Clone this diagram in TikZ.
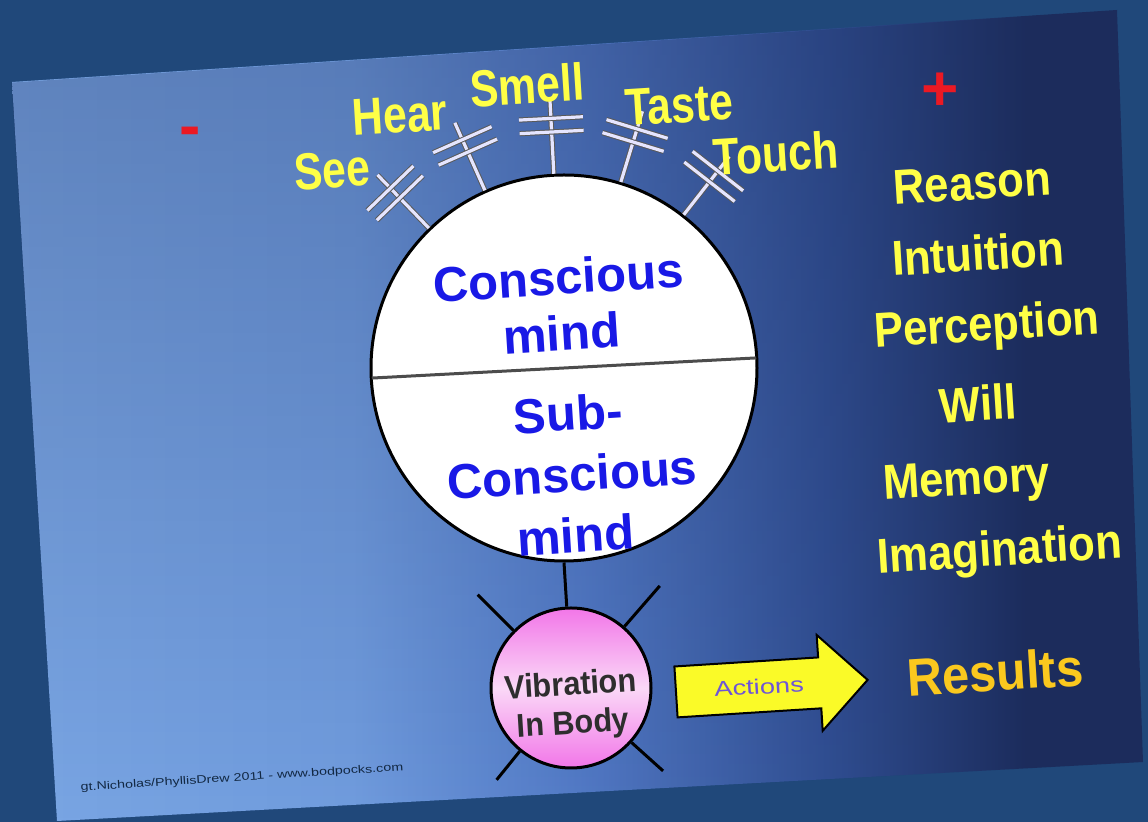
\documentclass[tikz,border=0pt]{standalone}
\usepackage{fontspec}
\setmainfont{Liberation Sans}
\usepackage{graphicx}
\usetikzlibrary{calc,shapes.arrows,fadings}

\definecolor{frameblue}{RGB}{32,72,122}
\definecolor{slidelight}{RGB}{122,166,228}
\definecolor{slidelightb}{RGB}{112,156,222}
\definecolor{slidemid}{RGB}{82,122,198}
\definecolor{slidedeep}{RGB}{48,78,146}
\definecolor{slidedark}{RGB}{28,44,92}
\definecolor{senseyellow}{RGB}{255,255,70}
\definecolor{resultgold}{RGB}{250,200,30}
\definecolor{mindblue}{RGB}{25,25,230}
\definecolor{actblue}{RGB}{110,85,215}
\definecolor{signred}{RGB}{235,25,35}
\definecolor{pinktop}{RGB}{242,118,232}
\definecolor{pinkmid}{RGB}{250,216,247}
\definecolor{arrowyellow}{RGB}{250,250,40}

% stops sit between 25bp and 75bp, the part that \shade fits to the path
\pgfdeclarehorizontalshading{slideshade}{100bp}{color(0bp)=(slidelight); color(25bp)=(slidelight); color(40bp)=(slidelightb);
  color(50bp)=(slidemid); color(61bp)=(slidedeep); color(70bp)=(slidedark); color(100bp)=(slidedark)}

\begin{document}
\begin{tikzpicture}[x=0.5pt, y=-0.5pt,
    sense/.style={draw=black!65, line width=0.5pt, double=white!90!blue, double distance=1.6pt},
    senselabel/.style={text=senseyellow, font=\bfseries\fontsize{26}{26}\selectfont, rotate=3.6, xscale=0.82, inner sep=0pt},
    faculty/.style={text=senseyellow, font=\bfseries\fontsize{24.5}{24.5}\selectfont, rotate=3.6, xscale=0.89, inner sep=0pt},
    mindtext/.style={text=mindblue, align=center, rotate=3.6, inner sep=0pt},
    sign/.style={text=signred, font=\bfseries\fontsize{32}{32}\selectfont, inner sep=0pt},
    actarrow/.style={single arrow, draw=black, line width=1pt, fill=arrowyellow,
      minimum height=96pt, single arrow head extend=11.25pt, inner ysep=8.5pt,
      text height=7.5pt, text depth=0pt, text=actblue, font=\fontsize{10.5}{10.5}\selectfont, rotate=3.6}
  ]
    \useasboundingbox (0,0) rectangle (1148,822);
    \fill[frameblue] (0,0) rectangle (1148,822);

    % the slide
    \shade[shading=slideshade]
      (12,82) -- (1117,10) -- (1143,762) -- (57,821) -- cycle;
    \fill[slidedark, path fading=south, fill opacity=0.3]
      (12,82) -- (1117,10) -- (1143,762) -- (57,821) -- cycle;

    \node[sign] (minus) at (190,137) {-};
    \node[sign] (plus)  at (940,92)  {+};

    % the mind and the five senses
    \node[circle, draw=black, line width=1.5pt, fill=white, minimum size=193pt, inner sep=0pt] (mind) at (564,368) {};
    \draw[draw=black!70, line width=1.5pt, shorten <=1pt, shorten >=1pt] (mind.183.6) -- (mind.3.6);

    \foreach \a [count=\i] in {134.8,114.2,93.6,73,52.4} {
      \coordinate (t\i) at ($(mind.center)!1.38!(mind.\a)$);
      \coordinate (b\i) at ($(mind.center)!1.215!(mind.\a)$);
      \coordinate (c\i) at ($(mind.center)!1.285!(mind.\a)$);
      \draw[sense] (mind.\a) -- (t\i);
      \draw[sense] ($(b\i)!16pt!90:(mind.center)$) -- ($(b\i)!16pt!-90:(mind.center)$);
      \draw[sense] ($(c\i)!16pt!90:(mind.center)$) -- ($(c\i)!16pt!-90:(mind.center)$);
    }

    \node[senselabel] (see)   at (332,170) {See};
    \node[senselabel] (hear)  at (400,115) {Hear};
    \node[senselabel] (smell) at (527,85)  {Smell};
    \node[senselabel] (taste) at (679,105) {Taste};
    \node[senselabel] (touch) at (776,153) {Touch};

    \node[mindtext, font=\bfseries\fontsize{24.5}{28}\selectfont] (consc) at (560,305) {Conscious\\mind};
    \node[mindtext, font=\bfseries\fontsize{24.5}{30.5}\selectfont] (subc) at (572,474) {Sub-\\Conscious\\mind};

    % body, actions, results
    \node[circle, draw=black, line width=1.5pt, top color=pinktop, bottom color=pinktop, middle color=pinkmid,
      minimum size=80pt, inner sep=0pt] (body) at (571,688) {};
    \node[text=black!82, align=center, font=\bfseries\fontsize{16.5}{19.5}\selectfont, rotate=3.6, xscale=0.93, inner sep=0pt] (vib) at (572,706) {Vibration\\In Body};
    \draw[line width=1.5pt] (mind.south) -- (body.93.6);
    \foreach \a/\r in {49/1.66,135/1.62,231/1.45,318/1.52}
      \draw[line width=1.5pt] (body.\a) -- ($(body.center)!\r!(body.\a)$);

    \node[actarrow, anchor=tail] (act) at (675,692) {\scalebox{1.3}[1]{Actions}};
    \node[text=resultgold, font=\bfseries\fontsize{26.5}{26.5}\selectfont, rotate=3.6, xscale=0.92, inner sep=0pt] (res) at (995,672) {Results};

    % faculties
    \foreach \t/\x/\y [count=\i] in {Reason/972/183, Intuition/978/253, Perception/987/328,
        Will/978/403, Memory/967/483, Imagination/1000/553}
      \node[faculty] (fac\i) at (\x,\y) {\t};

    \node[text=black!45!frameblue, font=\fontsize{5.5}{5.5}\selectfont, rotate=3.6, xscale=1.3, inner sep=0pt] (credit) at (242,778)
      {gt.Nicholas/PhyllisDrew 2011 - www.bodpocks.com};
  \end{tikzpicture}
\end{document}
